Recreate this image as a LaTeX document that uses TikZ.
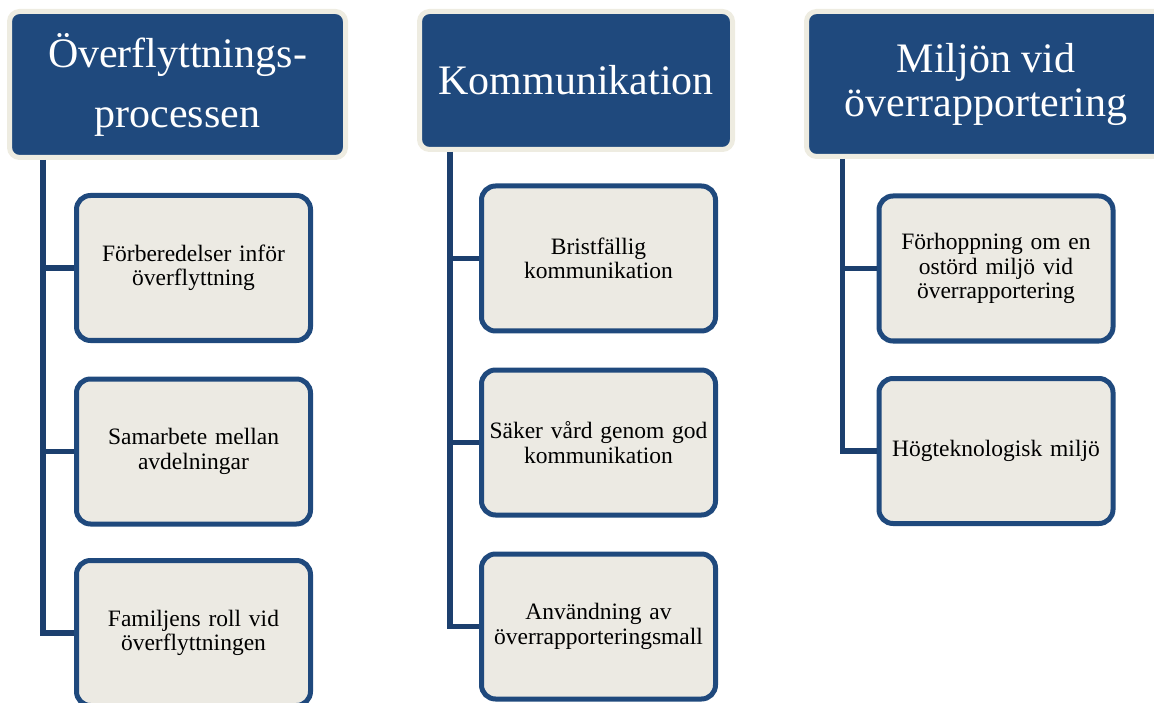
\documentclass[tikz,border=0pt]{standalone}
\usepackage{fontspec}
\setmainfont{Liberation Serif}
\definecolor{hdblue}{HTML}{1F497D}
\definecolor{hdcream}{HTML}{EEECE1}
\definecolor{boxfill}{HTML}{ECEAE3}
\definecolor{trunkblue}{HTML}{1C3F6E}

\begin{document}
\begin{tikzpicture}[x=1pt, y=-1pt,
        header/.style={draw=hdcream, line width=5pt, fill=hdblue, rounded corners=10pt, text=white, align=center, inner sep=0pt, font=\fontsize{42}{44}\selectfont},
        item/.style={draw=hdblue, line width=5pt, fill=boxfill, rounded corners=14pt, minimum width=234pt, minimum height=145pt, text width=222pt, align=center, inner sep=0pt, font=\fontsize{23.5}{24.5}\selectfont},
        trunk/.style={draw=trunkblue, line width=5.5pt}]
            \useasboundingbox (0, 0) rectangle (1154, 703);
            \node[header, minimum width=336pt, minimum height=146pt] (h1) at (177.5, 84.5) {Överflyttnings-\\[16pt]processen};
            \node[header, minimum width=313pt, minimum height=138pt] (h2) at (576, 80.5) {Kommunikation};
            \node[header, minimum width=359pt, minimum height=145pt] (h3) at (986, 84) {Miljön vid\\överrapportering};
            \node[item] (c11) at (193.5, 268) {Förberedelser inför\\överflyttning};
            \node[item] (c12) at (193.5, 451.5) {Samarbete mellan\\avdelningar};
            \node[item] (c13) at (193.5, 633) {Familjens roll vid\\överflyttningen};
            \node[item] (c21) at (598.5, 258.5) {Bristfällig\\kommunikation};
            \node[item] (c22) at (598.5, 442.5) {Säker vård genom god\\kommunikation};
            \node[item] (c23) at (598.5, 626.5) {Användning av\\överrapporteringsmall};
            \node[item] (c31) at (996, 268.5) {Förhoppning om en\\ostörd miljö vid\\överrapportering};
            \node[item] (c32) at (996, 451) {Högteknologisk miljö};
            \coordinate (t1) at (43, 160);
            \coordinate (t2) at (450, 152);
            \coordinate (t3) at (842.5, 159);
            \draw[trunk] (t1) |- (c13.west);
            \draw[trunk] (t2) |- (c23.west);
            \draw[trunk] (t3) |- (c32.west);
            \draw[trunk] (t1 |- c11.west) -- (c11.west);
            \draw[trunk] (t1 |- c12.west) -- (c12.west);
            \draw[trunk] (t2 |- c21.west) -- (c21.west);
            \draw[trunk] (t2 |- c22.west) -- (c22.west);
            \draw[trunk] (t3 |- c31.west) -- (c31.west);
        \end{tikzpicture}
\end{document}
